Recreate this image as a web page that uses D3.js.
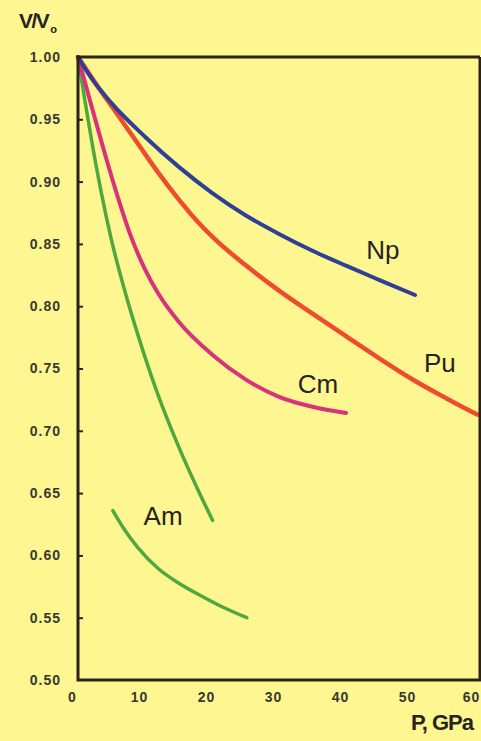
<!DOCTYPE html>
<html>
<head>
<meta charset="utf-8">
<script src="https://cdn.jsdelivr.net/npm/d3@7"></script>
<style>
  html, body { margin: 0; padding: 0; background: #fdf691; }
  svg { display: block; }
  .tick text { font-family: "Liberation Sans", Arial, sans-serif; font-weight: bold; font-size: 14px; fill: #3a3630; }
</style>
</head>
<body>
<div id="chart"></div>
<script>
var width = 481;
var height = 741;

// pressure in GPa, relative volume V/Vo
var npP = [0, 2, 5, 10, 15, 20, 25, 30, 35, 40, 45, 50.3];
var npV = [1.0, 0.983, 0.963, 0.936, 0.912, 0.891, 0.873, 0.858, 0.8445, 0.8325, 0.821, 0.809];

var puP = [0, 3, 6, 9, 12, 15, 18, 21, 25, 30, 35, 40, 45, 50, 55, 59.6];
var puV = [1.0, 0.976, 0.953, 0.930, 0.907, 0.886, 0.867, 0.851, 0.833, 0.8125, 0.794, 0.776, 0.758, 0.741, 0.726, 0.713];

var cmP = [0, 2, 4, 6, 8, 10, 12, 15, 20, 25, 30, 35, 40];
var cmV = [1.0, 0.961, 0.9226, 0.8866, 0.8546, 0.8296, 0.81, 0.7878, 0.7613, 0.7413, 0.7273, 0.7193, 0.7143];

var amP = [0, 1, 2, 3.5, 5, 7, 9, 12, 15, 18, 20.1];
var amV = [1.0, 0.966, 0.934, 0.8905, 0.853, 0.812, 0.776, 0.728, 0.6875, 0.6515, 0.628];

var am2P = [5.2, 7, 9, 12, 15, 18, 21.5, 25.2];
var am2V = [0.636, 0.6202, 0.6058, 0.5893, 0.5779, 0.5686, 0.5588, 0.550];

var xTicks = [0, 10, 20, 30, 40, 50, 60];
var yTicks = [0.50, 0.55, 0.60, 0.65, 0.70, 0.75, 0.80, 0.85, 0.90, 0.95, 1.00];

var labelNames = ["Np", "Pu", "Cm", "Am"];
var labelP = [45.5, 54.0, 35.8, 12.7];
var labelV = [0.845, 0.755, 0.738, 0.632];

// plot frame in pixels (window.top is reserved, so prefixed names)
var plotLeft = 78, plotRight = 480, plotTop = 57, plotBottom = 680;

var x = d3.scaleLinear().domain([0, 60]).range([plotLeft, plotRight]);
var y = d3.scaleLinear().domain([0.5, 1.0]).range([plotBottom, plotTop]);

var svg = d3.select("#chart").append("svg").attr("width", width).attr("height", height);

svg.append("rect").attr("width", width).attr("height", height).attr("fill", "#fdf691");

// y axis ticks point inward
var yAxis = d3.axisLeft(y).tickValues(yTicks).tickSizeInner(-5).tickSizeOuter(0).tickPadding(17)
    .tickFormat(d3.format(".2f"));
var gy = svg.append("g").attr("transform", "translate(" + plotLeft + ",0)").call(yAxis);
gy.select(".domain").remove();
gy.selectAll(".tick line").attr("stroke", "#2b2418").attr("stroke-width", 2);
gy.selectAll(".tick line").filter(function(d) { return d == 0.5 || d == 1.0; }).remove();
gy.selectAll(".tick text").attr("letter-spacing", "1px");

var xAxis = d3.axisBottom(x).tickValues(xTicks).tickSize(0).tickPadding(12);
var gx = svg.append("g").attr("transform", "translate(0," + plotBottom + ")").call(xAxis);
gx.select(".domain").remove();
gx.selectAll(".tick text").attr("dx", function(d) { return d == 60 ? -9 : -6; }).attr("letter-spacing", "1px");

function drawCurve(ps, vs, color, w) {
    var pts = ps.map(function(p, i) { return [p, vs[i]]; });
    var line = d3.line()
        .x(function(d) { return x(d[0]); })
        .y(function(d) { return y(d[1]); })
        .curve(d3.curveMonotoneX);
    svg.append("path").datum(pts)
        .attr("d", line)
        .attr("fill", "none")
        .attr("stroke", color)
        .attr("stroke-width", w)
        .attr("stroke-linecap", "round");
}

drawCurve(amP, amV, "#4fa83d", 3.5);
drawCurve(am2P, am2V, "#4fa83d", 3.5);
drawCurve(cmP, cmV, "#d8327b", 4);
drawCurve(puP, puV, "#ee4c2c", 4.5);
drawCurve(npP, npV, "#2f3f95", 4);

// frame
svg.append("path")
    .attr("d", "M" + x(60) + "," + y(1.0) + "H" + x(0) + "V" + y(0.5) + "H" + x(60) + "V" + y(1.0))
    .attr("fill", "none")
    .attr("stroke", "#2b2418")
    .attr("stroke-width", 3);

svg.selectAll(".elLabel").data(labelNames).enter().append("text")
    .attr("class", "elLabel")
    .attr("x", function(d, i) { return x(labelP[i]); })
    .attr("y", function(d, i) { return y(labelV[i]); })
    .attr("dy", "0.36em")
    .attr("text-anchor", "middle")
    .style("font-family", "'Liberation Sans', Arial, sans-serif")
    .style("font-size", "26px")
    .style("fill", "#262420")
    .text(function(d) { return d; });

var yt = svg.append("text")
    .attr("x", 19).attr("y", 28)
    .style("font-family", "'Liberation Sans', Arial, sans-serif")
    .style("font-weight", "bold")
    .style("font-size", "21px")
    .style("letter-spacing", "-1.5px")
    .style("fill", "#262420");
yt.append("tspan").text("V/V");
yt.append("tspan").attr("dy", 5).attr("dx", 2).style("font-size", "11px").style("letter-spacing", "0px").text("o");

svg.append("text")
    .attr("x", 473).attr("y", 730)
    .attr("text-anchor", "end")
    .style("font-family", "'Liberation Sans', Arial, sans-serif")
    .style("font-weight", "bold")
    .style("font-size", "22px")
    .style("letter-spacing", "-1px")
    .style("fill", "#262420")
    .text("P, GPa");
</script>
</body>
</html>
